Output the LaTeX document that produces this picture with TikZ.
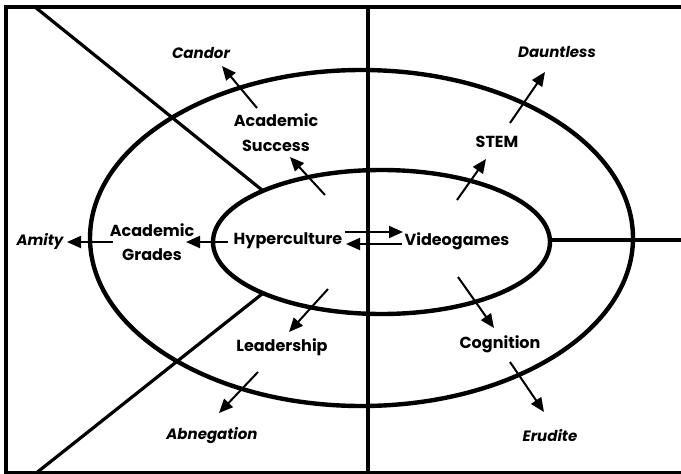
\documentclass[tikz,border=0pt]{standalone}
\usepackage{fontspec}
\newfontfamily\labfont{Poppins}
\usetikzlibrary{arrows.meta}
\begin{document}
\begin{tikzpicture}[x=1pt,y=-1pt,
  frameline/.style={line width=3.2pt},
  ring/.style={line width=4.4pt},
  arr/.style={line width=2pt,-{Triangle[length=14pt,width=12pt]}},
  lab/.style={font=\labfont\bfseries\fontsize{16}{18}\selectfont,align=center,inner sep=0pt},
  far/.style={font=\labfont\bfseries\itshape\fontsize{15}{17}\selectfont,inner sep=0pt}]
\useasboundingbox (0,0) rectangle (681,474);
\clip (0,0) rectangle (681,474);
\fill[white] (0,0) rectangle (681,474);

% frame and dividing lines
\draw[frameline] (6,7) rectangle (690,473);
\draw[frameline] (368,7) -- (368,474);
\draw[frameline] (35,7) -- (262,190);
\draw[frameline] (35,474) -- (262,294);
\draw[frameline] (550,240) -- (681,240);

% the two rings
\draw[ring] (361.5,238) ellipse [x radius=271.5pt, y radius=168pt];
\draw[ring] (381.5,242) ellipse [x radius=168.5pt, y radius=72pt];

% labels
\node[lab] (hyp) at (288,241) {Hyperculture};
\node[lab] (vid) at (457,241) {Videogames};
\node[lab] (acs) at (276,133) {Academic\\[7pt]Success};
\node[lab] (acg) at (152,242) {Academic\\[6pt]Grades};
\node[lab] (lead) at (282,347) {Leadership};
\node[lab] (cog) at (500,344) {Cognition};
\node[lab] (stem) at (497,142) {STEM};
\node[far] (candor) at (201,53) {Candor};
\node[far] (daunt) at (557,52) {Dauntless};
\node[far] (amity) at (40,241) {Amity};
\node[far] (abneg) at (212,436) {Abnegation};
\node[far] (erud) at (550,436) {Erudite};

% arrow end points
\coordinate (hypAcsS) at (325,195); \coordinate (hypAcsE) at (290,157);
\coordinate (acsCanS) at (257,108); \coordinate (acsCanE) at (222,66);
\coordinate (hypAcgS) at (228,242); \coordinate (hypAcgE) at (186,242);
\coordinate (acgAmS) at (113,242);  \coordinate (acgAmE) at (67,242);
\coordinate (hypVidS) at (345,232); \coordinate (hypVidE) at (403,232);
\coordinate (vidHypS) at (402,244); \coordinate (vidHypE) at (346,244);
\coordinate (vidStS) at (457,200);  \coordinate (vidStE) at (486,159);
\coordinate (stDaS) at (510,123);   \coordinate (stDaE) at (545,72);
\coordinate (vidCoS) at (458,277);  \coordinate (vidCoE) at (494,328);
\coordinate (coErS) at (510,362);   \coordinate (coErE) at (544,412);
\coordinate (hypLeS) at (328,289);  \coordinate (hypLeE) at (289,332);
\coordinate (leAbS) at (258,372);   \coordinate (leAbE) at (219,413);

% arrows
\draw[arr] (hypAcsS) -- (hypAcsE);
\draw[arr] (acsCanS) -- (acsCanE);
\draw[arr] (hypAcgS) -- (hypAcgE);
\draw[arr] (acgAmS) -- (acgAmE);
\draw[arr] (hypVidS) -- (hypVidE);
\draw[arr] (vidHypS) -- (vidHypE);
\draw[arr] (vidStS) -- (vidStE);
\draw[arr] (stDaS) -- (stDaE);
\draw[arr] (vidCoS) -- (vidCoE);
\draw[arr] (coErS) -- (coErE);
\draw[arr] (hypLeS) -- (hypLeE);
\draw[arr] (leAbS) -- (leAbE);
\end{tikzpicture}
\end{document}
